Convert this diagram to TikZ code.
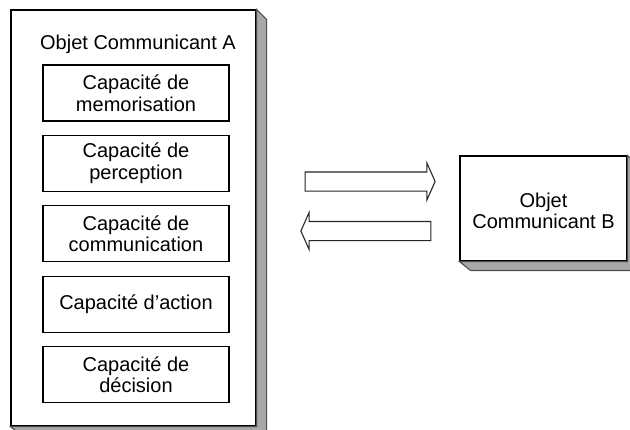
\documentclass[tikz,border=0pt]{standalone}
\usepackage{fontspec}
\setmainfont{Liberation Sans}
\usetikzlibrary{positioning, shapes.arrows}

\definecolor{shadegray}{HTML}{A8A8A8}

\begin{document}
\begin{tikzpicture}[
            x = 1pt, y = -1pt, % pixel like units, y going down
            node distance = 13.3pt, % gap between capacity boxes
            font = \fontsize{20}{21.5}\selectfont,
            line width = 1.1pt
        ]

        \tikzstyle{objbox}=[
            draw = black,
            fill = white,
            inner sep = 0pt
        ]
        \tikzstyle{capbox}=[
            draw = black,
            fill = white,
            align = center,
            minimum width = 186pt,
            minimum height = 56pt,
            inner sep = 0pt
        ]
        \tikzstyle{blockarrow}=[
            draw = black!85,
            fill = white,
            single arrow,
            minimum height = 130pt,
            minimum width = 36pt,
            single arrow head extend = 9pt,
            single arrow tip angle = 132,
            inner xsep = 0pt,
            inner ysep = 9pt
        ]

        \useasboundingbox (0,0) rectangle (630,429);

        % object A with its side shadow
        \node[objbox, minimum width = 245pt, minimum height = 416pt] (objA) at (133.5,218) {};
        \filldraw[fill = shadegray, draw = black!70] (objA.north east) -- ++(10,10) -- ++(0,416)
            -- ++(-245,0) -- (objA.south west) -- (objA.south east) -- cycle;
        \node (titleA) at (138,44) {Objet Communicant A};

        \node[capbox] (memo) at (136,93) {Capacité de\\memorisation};
        \node[capbox] (percep) [below=of memo] {Capacité de\\perception};
        \node[capbox] (comm) [below=of percep] {Capacité de\\communication};
        \node[capbox] (action) [below=of comm] {Capacité d’action};
        \node[capbox] (decis) [below=of action] {Capacité de\\décision};

        % object B with its side shadow
        \node[objbox, minimum width = 167pt, minimum height = 105pt, align = center] (objB) at (543.5,208.5) {};
        \filldraw[fill = shadegray, draw = black!70] (objB.north east) -- ++(10,10) -- ++(0,105)
            -- ++(-167,0) -- (objB.south west) -- (objB.south east) -- cycle;
        \node[align = center] (labelB) at (543.5,211) {Objet\\Communicant B};

        % exchange between A and B
        \node[blockarrow] (toB) at (368,181.5) {};
        \node[blockarrow, shape border rotate = 180] (toA) at (368,231) {};

  \end{tikzpicture}
\end{document}
